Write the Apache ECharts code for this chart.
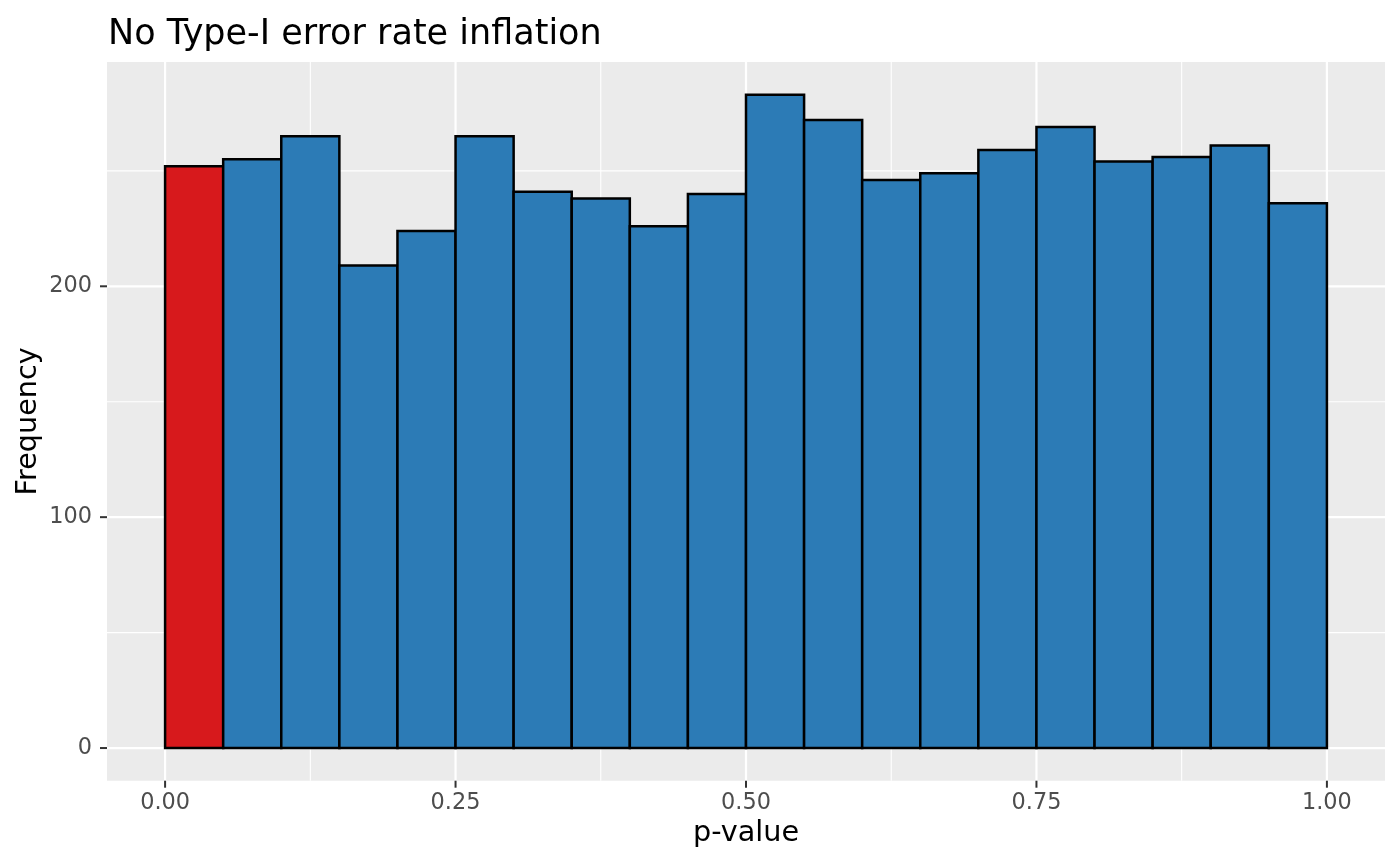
<!DOCTYPE html>
<html>
<head>
<meta charset="utf-8">
<script src="https://cdn.jsdelivr.net/npm/echarts@6/dist/echarts.min.js"></script>
<style>
html,body{margin:0;padding:0;background:#fff;}
#chart{width:1400px;height:865px;}
</style>
</head>
<body>
<div id="chart"></div>
<script>
const titleText = 'No Type-I error rate inflation';
const xTitle = 'p-value';
const yTitle = 'Frequency';
const binStarts = [0.00,0.05,0.10,0.15,0.20,0.25,0.30,0.35,0.40,0.45,0.50,0.55,0.60,0.65,0.70,0.75,0.80,0.85,0.90,0.95];
const binWidth = 0.05;
const frequencies = [252,255,265,209,224,265,241,238,226,240,283,272,246,249,259,269,254,256,261,236];
const alpha = 0.05;
const xMajorTicks = [0,0.25,0.5,0.75,1];
const xMinorTicks = [0.125,0.375,0.625,0.875];
const yMajorTicks = [0,100,200];
const yMinorTicks = [50,150,250];

const RED = '#D7191C', BLUE = '#2C7BB6';
const yMaxData = Math.max(...frequencies);
const yMin = -0.05 * yMaxData, yMax = 1.05 * yMaxData;

const barData = binStarts.map((s, i) => [s, s + binWidth, frequencies[i], s < alpha ? 1 : 0]);
const gridData = [];
xMajorTicks.forEach(v => gridData.push([v, 0, 1]));
xMinorTicks.forEach(v => gridData.push([v, 0, 0]));
yMajorTicks.forEach(v => gridData.push([v, 1, 1]));
yMinorTicks.forEach(v => gridData.push([v, 1, 0]));
const tickData = [];
xMajorTicks.forEach(v => tickData.push([v, 0]));
yMajorTicks.forEach(v => tickData.push([v, 1]));

const chart = echarts.init(document.getElementById('chart'), null, {renderer: 'canvas'});
const labelFont = {color: '#4D4D4D', fontSize: 22.4, fontFamily: 'DejaVu Sans'};
chart.setOption({
  animation: false,
  backgroundColor: '#FFFFFF',
  title: {
    text: titleText, left: 103, top: 12,
    textStyle: {color: '#000', fontSize: 35, fontWeight: 'normal', fontFamily: 'DejaVu Sans'}
  },
  grid: {
    left: 107, right: 15, top: 62, bottom: 84.3,
    containLabel: false, outerBoundsMode: 'none',
    show: true, backgroundColor: '#EBEBEB', borderWidth: 0
  },
  xAxis: {
    type: 'value', min: -0.05, max: 1.05,
    name: xTitle, nameLocation: 'middle', nameGap: 38, nameMoveOverlap: false,
    nameTextStyle: {color: '#000', fontSize: 28.7, fontFamily: 'DejaVu Sans'},
    axisLine: {show: false, onZero: false},
    axisTick: {show: false},
    axisLabel: Object.assign({customValues: xMajorTicks, margin: 11, formatter: v => Number(v).toFixed(2)}, labelFont),
    splitLine: {show: false}, minorSplitLine: {show: false}
  },
  yAxis: {
    type: 'value', min: yMin, max: yMax,
    name: yTitle, nameLocation: 'middle', nameGap: 64, nameRotate: 90, nameMoveOverlap: false,
    nameTextStyle: {color: '#000', fontSize: 28.7, fontFamily: 'DejaVu Sans'},
    axisLine: {show: false, onZero: false},
    axisTick: {show: false},
    axisLabel: Object.assign({customValues: yMajorTicks, margin: 15, formatter: v => String(Math.round(v))}, labelFont),
    splitLine: {show: false}, minorSplitLine: {show: false}
  },
  series: [
    {
      type: 'custom', name: 'grid', z: 1, silent: true,
      data: gridData,
      renderItem: function (params, api) {
        const cs = params.coordSys;
        const v = api.value(0), horiz = api.value(1) === 1, major = api.value(2) === 1;
        const w = major ? 2.2 : 1.1;
        let shape;
        if (horiz) {
          const p = api.coord([0, v]);
          shape = {x1: cs.x, y1: p[1], x2: cs.x + cs.width, y2: p[1]};
        } else {
          const p = api.coord([v, 0]);
          shape = {x1: p[0], y1: cs.y, x2: p[0], y2: cs.y + cs.height};
        }
        return {type: 'line', shape: shape, style: {stroke: '#FFFFFF', lineWidth: w}};
      }
    },
    {
      type: 'custom', name: 'ticks', z: 3, silent: true, clip: false,
      data: tickData,
      renderItem: function (params, api) {
        const cs = params.coordSys;
        const v = api.value(0), isY = api.value(1) === 1;
        let shape;
        if (isY) {
          const p = api.coord([0, v]);
          shape = {x1: cs.x - 7, y1: p[1], x2: cs.x, y2: p[1]};
        } else {
          const p = api.coord([v, 0]);
          const yb = cs.y + cs.height;
          shape = {x1: p[0], y1: yb, x2: p[0], y2: yb + 7};
        }
        return {type: 'line', shape: shape, style: {stroke: '#333333', lineWidth: 2}};
      }
    },
    {
      type: 'custom', name: 'p-values', z: 2,
      data: barData,
      renderItem: function (params, api) {
        const x0 = api.value(0), x1 = api.value(1), y = api.value(2), hi = api.value(3) === 1;
        const pTop = api.coord([x0, y]);
        const pBot = api.coord([x1, 0]);
        return {
          type: 'rect',
          shape: {x: pTop[0], y: pTop[1], width: pBot[0] - pTop[0], height: pBot[1] - pTop[1]},
          style: {fill: hi ? RED : BLUE, stroke: '#000000', lineWidth: 2.5}
        };
      }
    }
  ]
});
</script>
</body>
</html>
